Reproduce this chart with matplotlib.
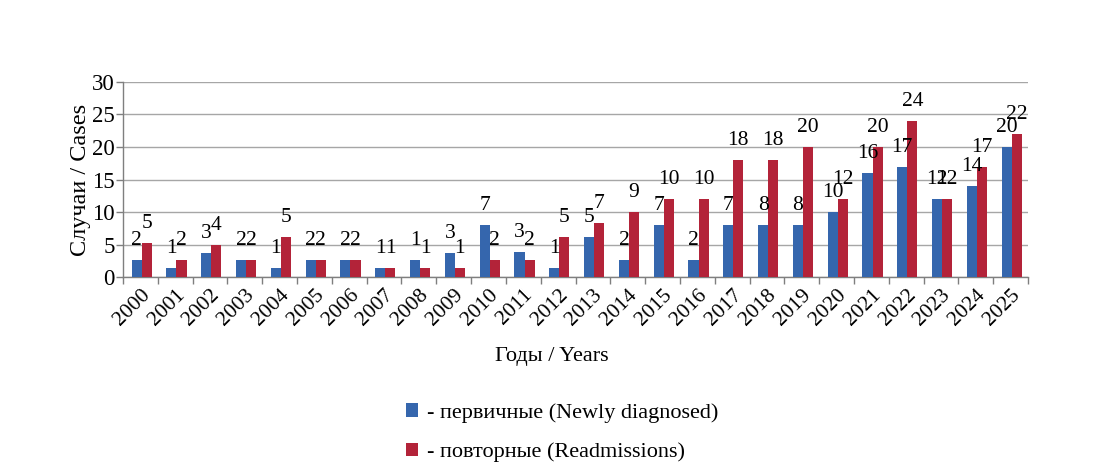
import matplotlib
matplotlib.use("Agg")
import matplotlib.pyplot as plt
from matplotlib.patches import Patch
import numpy as np

plt.rcParams['font.family'] = ['Liberation Serif', 'DejaVu Serif']

years = [str(y) for y in range(2000, 2026)]
# value labels printed above bars
newly_labels = [2, 1, 3, 2, 1, 2, 2, 1, 1, 3, 7, 3, 1, 5, 2, 7, 2, 7, 8, 8, 10, 16, 17, 12, 14, 20]
readm_labels = [5, 2, 4, 2, 5, 2, 2, 1, 1, 1, 2, 2, 5, 7, 9, 10, 10, 18, 18, 20, 12, 20, 24, 12, 17, 22]
# bar heights as drawn in the chart
newly_heights = [2.57, 1.44, 3.76, 2.57, 1.44, 2.57, 2.57, 1.44, 2.57, 3.76, 8.03, 3.86, 1.44, 6.23,
                 2.57, 8.03, 2.57, 8.03, 8.03, 8.03, 10, 16, 16.9, 12, 14, 20]
readm_heights = [5.2, 2.57, 5.0, 2.57, 6.18, 2.57, 2.57, 1.44, 1.44, 1.44, 2.57, 2.57, 6.18, 8.29,
                 10, 12, 12, 18, 18, 20, 12, 20, 24, 12, 16.9, 22]
yticks = [0, 5, 10, 15, 20, 25, 30]

blue = '#3566ad'
red = '#b32339'

fig = plt.figure(figsize=(11.06, 4.76), dpi=100)
ax = fig.add_axes([123/1106, 1-277/476, 905/1106, 195/476])

x = np.arange(len(years))
w = 0.29
off = 0.035
ax.bar(x + off - w/2, newly_heights, width=w, color=blue, zorder=3)
ax.bar(x + off + w/2, readm_heights, width=w, color=red, zorder=3)

for xi, h, lab in zip(x, newly_heights, newly_labels):
    ax.annotate(str(lab), (xi + off - w/2, h), xytext=(0, 14), textcoords='offset points',
                ha='center', va='center', fontsize=15.5, zorder=4)
for xi, h, lab in zip(x, readm_heights, readm_labels):
    ax.annotate(str(lab), (xi + off + w/2, h), xytext=(0, 14), textcoords='offset points',
                ha='center', va='center', fontsize=15.5, zorder=4)

ax.set_xlim(-0.5, len(years) - 0.5)
ax.set_ylim(0, 30)
ax.set_yticks(yticks)
ax.set_yticklabels([str(t) for t in yticks], fontsize=16.5)
ax.set_xticks(x)
ax.set_xticklabels(years, rotation=45, ha='right', rotation_mode='anchor', fontsize=15.5)
ax.set_xticks(np.arange(-0.5, len(years), 1), minor=True)
ax.tick_params(axis='x', which='major', length=0, pad=6)
ax.tick_params(axis='x', which='minor', length=5, color='#7f7f7f', width=1)
ax.tick_params(axis='y', length=5, color='#7f7f7f', width=1, pad=1)

ax.yaxis.grid(True, color='#a6a6a6', linewidth=1, zorder=0)
for s in ['top', 'right']:
    ax.spines[s].set_visible(False)
for s in ['left', 'bottom']:
    ax.spines[s].set_color('#7f7f7f')
    ax.spines[s].set_linewidth(1)

ax.set_ylabel('Случаи / Cases', fontsize=17.5)
ax.yaxis.set_label_coords(-0.0475, 0.5)
ax.set_xlabel('Годы / Years', fontsize=16)
ax.xaxis.set_label_coords(0.474, -0.41)
ax.xaxis.label.set_va('center')
ax.yaxis.label.set_va('center')

handles = [Patch(facecolor=blue, edgecolor='none'), Patch(facecolor=red, edgecolor='none')]
fig.legend(handles, ['- первичные (Newly diagnosed)', '- повторные (Readmissions)'],
           loc='upper left', bbox_to_anchor=(406/1106, 1-403/476), frameon=False,
           fontsize=16, handlelength=0.55, handleheight=0.55, handletextpad=0.4,
           labelspacing=0.9, borderpad=0, borderaxespad=0)

fig.savefig('out.png', dpi=100, facecolor='white')
